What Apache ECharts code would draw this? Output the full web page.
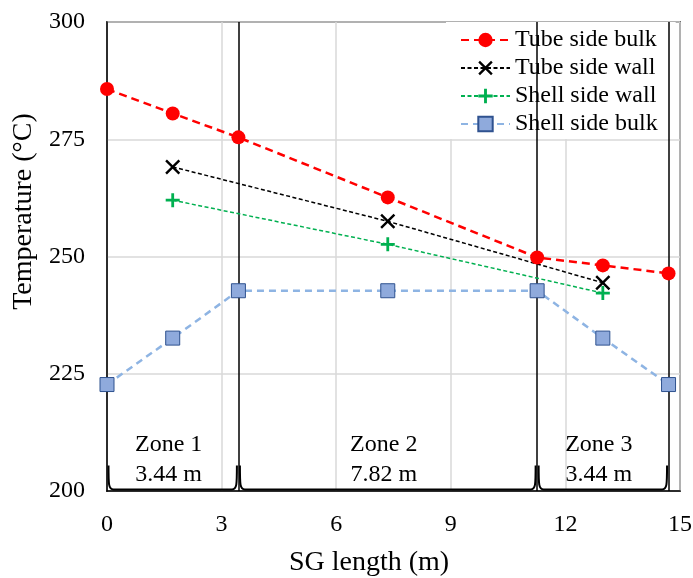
<!DOCTYPE html>
<html>
<head>
<meta charset="utf-8">
<script src="https://cdn.jsdelivr.net/npm/echarts@6/dist/echarts.min.js"></script>
<style>
html,body{margin:0;padding:0;background:#fff;}
#chart{width:693px;height:578px;}
</style>
</head>
<body>
<div id="chart"></div>
<script>
// ---- data ----
const xBulk = [0, 1.72, 3.44, 7.35, 11.26, 12.98, 14.70];
const tubeSideBulk = [285.7, 280.5, 275.4, 262.6, 249.8, 248.1, 246.4];
const xWall = [1.72, 7.35, 12.98];
const tubeSideWall = [269.1, 257.5, 244.4];
const shellSideWall = [262.0, 252.6, 242.2];
const shellSideBulk = [222.7, 232.6, 242.7, 242.7, 242.7, 232.6, 222.7];
const zoneBounds = [0, 3.44, 11.26, 14.70];
const zoneNames = ['Zone 1', 'Zone 2', 'Zone 3'];
const zoneLengths = ['3.44 m', '7.82 m', '3.44 m'];
const seriesNames = ['Tube side bulk', 'Tube side wall', 'Shell side wall', 'Shell side bulk'];
const yTicks = { min: 200, max: 300, step: 25 };
const xTicks = { min: 0, max: 15, step: 3 };

// ---- build ----
const FONT = 'Liberation Serif';
const pairs = (xs, ys) => xs.map((x, i) => [x, ys[i]]);
const zones = zoneNames.map((n, i) => [zoneBounds[i], zoneBounds[i + 1], i]);

const X_PATH = 'path://M0,1.6L1.6,0L7,5.4L12.4,0L14,1.6L8.6,7L14,12.4L12.4,14L7,8.6L1.6,14L0,12.4L5.4,7Z';
const PLUS_PATH = 'path://M5.6,0H8.4V5.6H14V8.4H8.4V14H5.6V8.4H0V5.6H5.6Z';

const chart = echarts.init(document.getElementById('chart'), null, { renderer: 'canvas' });

const option = {
  backgroundColor: '#fff',
  animation: false,
  textStyle: { fontFamily: FONT },
  grid: {
    left: 107, right: 13, top: 22, bottom: 87, show: true, borderColor: '#000', borderWidth: 1.5,
    containLabel: false, outerBoundsMode: 'none'
  },
  legend: {
    left: 446, top: 22, orient: 'vertical', align: 'left',
    backgroundColor: '#fff',
    padding: [6, 18, 3, 14],
    itemWidth: 49, itemHeight: 18, itemGap: 4,
    textStyle: { fontFamily: FONT, fontSize: 24, lineHeight: 24, color: '#000' },
    data: seriesNames
  },
  xAxis: {
    type: 'value', min: xTicks.min, max: xTicks.max, interval: xTicks.step,
    name: 'SG length (m)', nameLocation: 'middle', nameGap: 58,
    nameTextStyle: { fontFamily: FONT, fontSize: 28, color: '#000', padding: [0, 49, 0, 0] },
    axisLine: { show: true, onZero: false, lineStyle: { color: '#000', width: 1.5 } },
    axisTick: { show: false },
    axisLabel: { fontFamily: FONT, fontSize: 24, color: '#000', margin: 22 },
    splitLine: { show: true, lineStyle: { color: '#d9d9d9', width: 1.5 } }
  },
  yAxis: {
    type: 'value', min: yTicks.min, max: yTicks.max, interval: yTicks.step,
    name: 'Temperature (°C)', nameLocation: 'middle', nameGap: 66,
    nameTextStyle: { fontFamily: FONT, fontSize: 28, color: '#000', padding: [0, 0, 0, 90] },
    axisLine: { show: true, onZero: false, lineStyle: { color: '#000', width: 1.5 } },
    axisTick: { show: false },
    axisLabel: { fontFamily: FONT, fontSize: 24, color: '#000', margin: 22 },
    splitLine: { show: true, lineStyle: { color: '#d9d9d9', width: 1.5 } }
  },
  series: [
    {
      name: seriesNames[0], type: 'line', data: pairs(xBulk, tubeSideBulk),
      symbol: 'circle', symbolSize: 14, z: 5,
      lineStyle: { color: '#ff0000', width: 2.5, type: [8, 5] },
      itemStyle: { color: '#ff0000' }
    },
    {
      name: seriesNames[1], type: 'line', data: pairs(xWall, tubeSideWall),
      symbol: X_PATH, symbolSize: 15, z: 5,
      lineStyle: { color: '#000', width: 1.5, type: [4, 2.5] },
      itemStyle: { color: '#000' }
    },
    {
      name: seriesNames[2], type: 'line', data: pairs(xWall, shellSideWall),
      symbol: PLUS_PATH, symbolSize: 14, z: 5,
      lineStyle: { color: '#00b050', width: 1.5, type: [4, 2.5] },
      itemStyle: { color: '#00b050' }
    },
    {
      name: seriesNames[3], type: 'line', data: pairs(xBulk, shellSideBulk),
      symbol: 'rect', symbolSize: 14, z: 5,
      lineStyle: { color: '#8eb4e3', width: 2.5, type: [7, 5] },
      itemStyle: { color: '#8faadc', borderColor: '#2f528f', borderWidth: 1 },
      markLine: {
        silent: true, symbol: 'none', label: { show: false },
        lineStyle: { color: '#000', width: 1.5, type: 'solid' },
        data: zoneBounds.slice(1).map(b => [{ coord: [b, yTicks.min] }, { coord: [b, yTicks.max] }])
      }
    },
    {
      name: 'brace', type: 'custom', z: 4, silent: true,
      data: zones,
      encode: { x: [0, 1] },
      renderItem: function (params, api) {
        const a = api.value(0), b = api.value(1);
        const p0 = api.coord([a, yTicks.min]);
        const p1 = api.coord([b, yTicks.min]);
        const y = p0[1] - 1.5, h = 24;
        const x0 = p0[0] + 1.5, x1 = p1[0] - 1.5;
        const d = 'M' + x0 + ',' + (y - h) + ' C' + x0 + ',' + (y - 5) + ' ' + x0 + ',' + y + ' ' + (x0 + 5) + ',' + y +
          ' L' + (x1 - 5) + ',' + y + ' C' + x1 + ',' + y + ' ' + x1 + ',' + (y - 5) + ' ' + x1 + ',' + (y - h);
        return { type: 'path', shape: { pathData: d }, style: { fill: null, stroke: '#000', lineWidth: 2 } };
      }
    },
    {
      name: 'zoneText', type: 'custom', z: 4, silent: true,
      data: zones,
      encode: { x: [0, 1] },
      renderItem: function (params, api) {
        const a = api.value(0), b = api.value(1), i = api.value(2);
        const p = api.coord([(a + b) / 2, yTicks.min]);
        return {
          type: 'text', x: p[0] - 4, y: p[1] - 31,
          style: {
            text: zoneNames[i] + '\n' + zoneLengths[i],
            fontFamily: FONT, fontSize: 24, lineHeight: 30, fill: '#000',
            align: 'center', verticalAlign: 'middle'
          }
        };
      }
    }
  ]
};
chart.setOption(option);
</script>
</body>
</html>
